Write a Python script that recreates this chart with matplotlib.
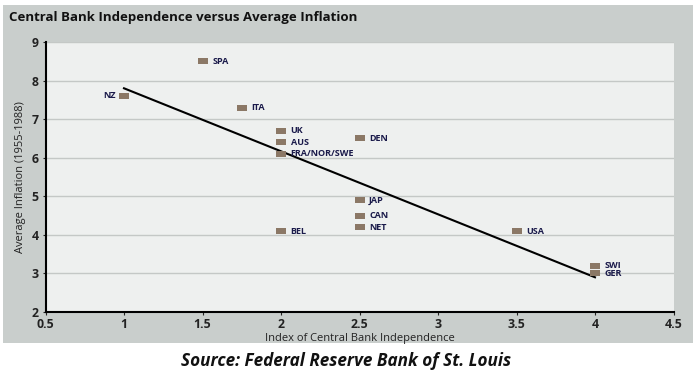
import matplotlib
matplotlib.use("Agg")
import matplotlib.pyplot as plt
from matplotlib.patches import Rectangle

# data
countries = ['SPA', 'NZ', 'ITA', 'UK', 'AUS', 'FRA/NOR/SWE', 'DEN', 'BEL',
             'JAP', 'CAN', 'NET', 'USA', 'SWI', 'GER']
independence = [1.5, 1.0, 1.75, 2.0, 2.0, 2.0, 2.5, 2.0, 2.5, 2.5, 2.5, 3.5, 4.0, 4.0]
inflation = [8.5, 7.6, 7.3, 6.7, 6.4, 6.1, 6.5, 4.1, 4.9, 4.5, 4.2, 4.1, 3.2, 3.0]
fit_x = [1.0, 4.0]
fit_y = [7.8, 2.9]
xticks = [0.5, 1, 1.5, 2, 2.5, 3, 3.5, 4, 4.5]
yticks = [2, 3, 4, 5, 6, 7, 8, 9]

plt.rcParams['font.family'] = ['Open Sans', 'DejaVu Sans']

fig = plt.figure(figsize=(7, 3.78), dpi=100)
fig.patch.set_facecolor('white')

# grey frame behind the chart
fig.patches.append(Rectangle((3 / 700, 35 / 378), 690 / 700, 338 / 378,
                             transform=fig.transFigure, facecolor='#c9cecc',
                             edgecolor='none', zorder=-5))

ax = fig.add_axes([45.5 / 700, 1 - 312 / 378, 628 / 700, 270 / 378])
ax.set_zorder(2)
ax.set_facecolor('#eef0ef')

ax.set_xlim(0.5, 4.5)
ax.set_ylim(2, 9)
ax.set_xticks(xticks)
ax.set_xticklabels(['0.5', '1', '1.5', '2', '2.5', '3', '3.5', '4', '4.5'])
ax.set_yticks(yticks)
ax.grid(axis='y', color='#c4c8c6', linewidth=1)
ax.set_axisbelow(True)
for s in ['top', 'right']:
    ax.spines[s].set_visible(False)
for s in ['left', 'bottom']:
    ax.spines[s].set_linewidth(1.5)
ax.tick_params(axis='both', labelsize=8.8, length=2, colors='#222222')
ax.tick_params(axis='x', pad=2)
ax.tick_params(axis='y', pad=3)
for lbl in ax.get_xticklabels() + ax.get_yticklabels():
    lbl.set_fontweight('bold')

ax.plot(fit_x, fit_y, color='black', linewidth=1.5, zorder=2)
# flat rectangular markers like the original
rect_marker = [(-1, -0.65), (1, -0.65), (1, 0.65), (-1, 0.65), (-1, -0.65)]
ax.scatter(independence, inflation, marker=rect_marker, s=50, color='#8b7866',
           linewidths=0, zorder=3)

for c, x, y in zip(countries, independence, inflation):
    if c == 'NZ':
        ax.annotate(c, (x, y), xytext=(-6, 0), textcoords='offset points',
                    ha='right', va='center', fontsize=6.5, fontweight='bold',
                    color='#1a1a4a')
    else:
        ax.annotate(c, (x, y), xytext=(7, 0), textcoords='offset points',
                    ha='left', va='center', fontsize=6.5, fontweight='bold',
                    color='#1a1a4a')

ax.set_xlabel('Index of Central Bank Independence', fontsize=8, labelpad=2,
              color='#222222')
ax.set_ylabel('Average Inflation (1955-1988)', fontsize=8, labelpad=4,
              color='#222222')

fig.text(9 / 700, 1 - 17 / 378, 'Central Bank Independence versus Average Inflation',
         fontsize=9.5, fontweight='bold', color='#111111', va='center')
fig.text(0.495, 1 - 361 / 378, 'Source: Federal Reserve Bank of St. Louis',
         fontsize=12.3, fontweight='bold', style='italic', ha='center',
         va='center', color='#111111')

fig.savefig('out.png', dpi=100)
